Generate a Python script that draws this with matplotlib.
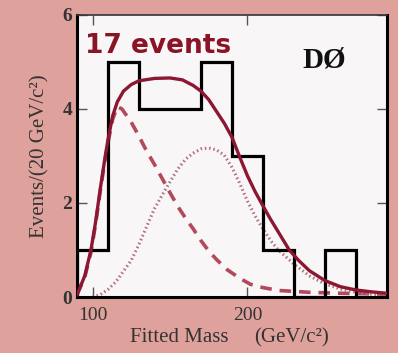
import matplotlib

matplotlib.use("Agg")

import matplotlib.pyplot as plt

# histogram (20 GeV bins)
bin_edges = [90, 110, 130, 150, 170, 190, 210, 230, 250, 270]
counts = [1, 5, 4, 4, 5, 3, 1, 0, 1]

# total fit (solid)
fit_mass = [90, 95, 99, 102, 105, 108, 110, 113, 116, 120, 125, 130, 140, 150, 158,
            165, 170, 175, 180, 185, 190, 195, 200, 205, 210, 215, 220, 227, 233,
            240, 250, 260, 270, 280, 290]
fit_total = [0.05, 0.45, 1.0, 1.6, 2.3, 2.95, 3.35, 3.85, 4.15, 4.38, 4.52, 4.6, 4.65,
             4.66, 4.62, 4.5, 4.38, 4.2, 3.95, 3.7, 3.4, 2.98, 2.58, 2.24, 1.94, 1.65,
             1.38, 1.0, 0.78, 0.56, 0.35, 0.22, 0.15, 0.11, 0.08]

# background (dashed)
bkg_mass = [90, 95, 99, 102, 105, 108, 110, 113, 116, 119, 125, 130, 135, 140, 145,
            150, 155, 160, 165, 170, 175, 180, 187, 195, 202, 210, 220, 240, 260, 290]
bkg = [0.05, 0.42, 0.95, 1.55, 2.25, 2.9, 3.28, 3.78, 4.05, 4.0, 3.72, 3.42, 3.1,
       2.82, 2.52, 2.22, 1.93, 1.68, 1.45, 1.2, 0.98, 0.8, 0.58, 0.4, 0.27, 0.2,
       0.14, 0.1, 0.08, 0.06]

# signal (dotted)
sig_mass = [100, 105, 110, 115, 120, 125, 130, 135, 140, 145, 150, 155, 160, 165,
            170, 175, 180, 185, 190, 195, 200, 205, 210, 215, 220, 230, 240, 250,
            260, 270, 280, 290]
sig = [0.0, 0.05, 0.16, 0.32, 0.55, 0.78, 1.12, 1.5, 1.88, 2.17, 2.45, 2.72, 2.93,
       3.06, 3.15, 3.17, 3.13, 3.02, 2.76, 2.42, 2.04, 1.72, 1.45, 1.2, 1.0, 0.7,
       0.45, 0.28, 0.17, 0.1, 0.06, 0.04]

x_ticks = [100, 200]
y_ticks = [0, 2, 4, 6]

BG = "#dfa19b"
FACE = "#f8f6f7"
CURVE = "#8c1733"
DASH = "#b24a5c"
DOT = "#b0707c"
SERIF = "Liberation Serif"

fig = plt.figure(figsize=(3.98, 3.53), dpi=100, facecolor=BG)
ax = fig.add_axes([0.1935, 0.1586, 0.7785, 0.799])
ax.set_facecolor(FACE)

ax.plot(bkg_mass, bkg, color=DASH, lw=2.6, ls=(0, (3.2, 2.2)), zorder=2)
ax.plot(sig_mass, sig, color=DOT, lw=2.2, ls=(0, (0.5, 0.9)), zorder=2)
ax.stairs(counts, bin_edges, color="black", lw=2.3, zorder=3)
ax.plot(fit_mass, fit_total, color=CURVE, lw=2.4, zorder=4)

ax.set_xlim(90, 290)
ax.set_ylim(0, 6)
ax.set_xticks(x_ticks)
ax.set_yticks(y_ticks)
ax.tick_params(direction="in", length=7, width=1, top=True, right=True,
               colors="#555555", labelcolor="#333333")
ax.tick_params(axis="x", pad=7)
for lab in ax.get_xticklabels():
    lab.set_fontfamily(SERIF)
    lab.set_fontsize(14)
for lab in ax.get_yticklabels():
    lab.set_fontfamily(SERIF)
    lab.set_fontsize(14)
    lab.set_fontweight("bold")
for side in ["left", "bottom", "right"]:
    ax.spines[side].set_linewidth(2.2)
ax.spines["top"].set_linewidth(1.2)
ax.spines["top"].set_color("#333333")

# axis titles
fig.text(0.45, 0.043, "Fitted Mass", family=SERIF, fontsize=15, color="#333333",
         ha="center", va="center")
fig.text(0.733, 0.043, "(GeV/c²)", family=SERIF, fontsize=15, color="#333333",
         ha="center", va="center")
fig.text(0.1, 0.558, "Events/(20 GeV/c²)", family=SERIF, fontsize=15,
         color="#333333", rotation=90, ha="center", va="center")

ax.text(0.026, 0.865, "17 events", transform=ax.transAxes, color="#8a1426",
        fontsize=19, fontweight="bold", family="DejaVu Sans", va="baseline")
ax.text(0.726, 0.812, "DØ", transform=ax.transAxes, color="#111111",
        fontsize=21, fontweight="bold", family=SERIF, va="baseline")

fig.savefig("out.png", dpi=100, facecolor=BG)
